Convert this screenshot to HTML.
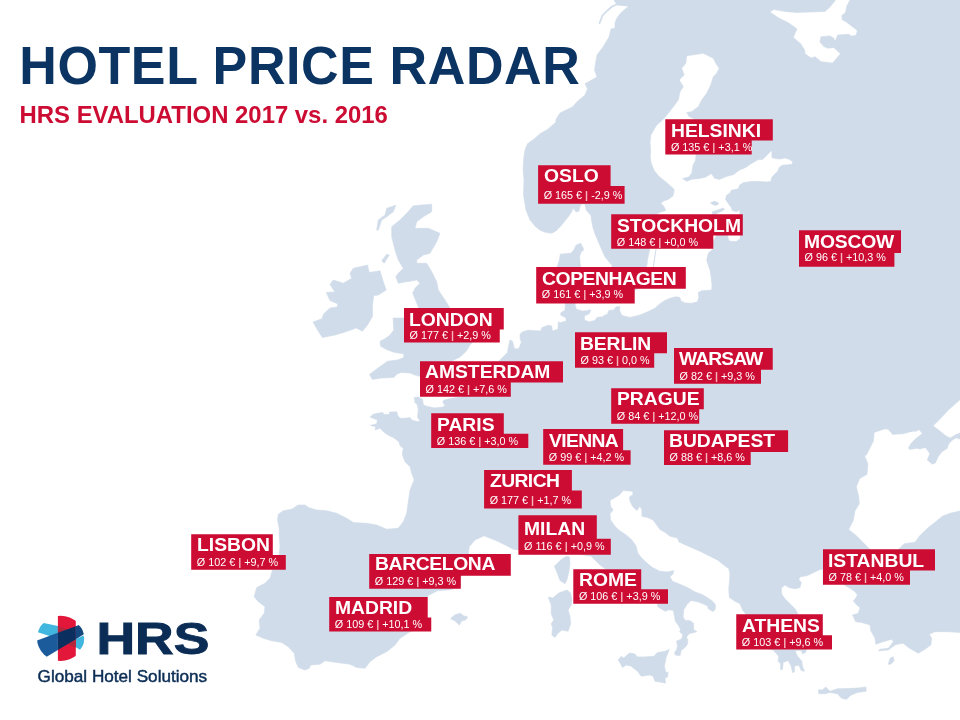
<!DOCTYPE html>
<html lang="en"><head><meta charset="utf-8"><title>Hotel Price Radar</title>
<style>
html,body{margin:0;padding:0;background:#fff}
body{width:960px;height:720px;position:relative;overflow:hidden;font-family:"Liberation Sans",Arial,sans-serif}
h1{position:absolute;left:19.3px;top:35.75px;margin:0;font-size:52px;line-height:60px;font-weight:bold;color:#0b3462;white-space:nowrap;letter-spacing:0.6px;transform:scaleY(1.04);transform-origin:0 48px}
h2{position:absolute;left:19.6px;top:100.1px;margin:0;font-size:23.9px;line-height:30px;font-weight:bold;color:#cc0c33;white-space:nowrap}
.layer{position:absolute;left:0;top:0;width:960px;height:720px;will-change:transform}
.bx{position:absolute;background:#cc0c33}
.t,.d{position:absolute;color:#fff;white-space:nowrap;margin:0}
.t{font-weight:bold;font-size:18.75px;line-height:24px;height:24px;transform:scaleX(1.029);transform-origin:0 0}
.d{font-size:10.8px;line-height:14px;height:14px}
.d b{color:#f6b4bc}
</style></head><body>
<svg width="960" height="720" viewBox="0 0 960 720" style="position:absolute;left:0;top:0">
<g fill="#d0dce9" stroke="#d0dce9" stroke-width="0.6" stroke-linejoin="round">
<path d="M614 0 L616.9 5 L628.75 6.25 L624 10 L620 13.75 L617 18 L615 22.5 L615 28 L611 29 L609 37 L603 47 L597 55 L594.5 70 L597 77 L585 83.75 L587.5 88.75 L585 95 L577.5 101.25 L572.5 106.9 L565 110.6 L560 113.1 L556.25 118.75 L555.6 122.5 L547.5 129.4 L540 133.75 L534.4 138.75 L527.5 143.75 L525 150 L523.75 157.5 L523.1 170 L524 180 L523.5 195 L526 210 L530 220 L535 226 L540 230.2 L545.2 232.3 L551.5 233.3 L555.6 231.25 L560.8 226 L565 220.8 L569.2 215.6 L571.8 211.5 L572.8 208.3 L574.9 209.9 L575.9 212 L579.1 210.9 L580.1 206.25 L581.7 204 L584.8 204 L586.4 210.4 L591 215.6 L591.6 220.8 L593.1 228.1 L595.2 234.4 L598.3 241.7 L601.5 249 L604.6 256.25 L608.75 261.5 L611.9 265.1 L612 267 L615 280 L618 290 L630 292 L640 288 L646 280 L646.7 266.5 L647.7 258.75 L649.8 249 L650 235 L653 222 L657.5 213.75 L659.6 212.5 L665.8 210.4 L663.75 206.25 L660.6 203.1 L663.75 201 L669 199 L673.1 195.8 L674.2 189.6 L670 185.4 L663.75 180.2 L658.5 176 L654.4 170.8 L651.25 163.5 L650.2 156.25 L650.7 150 L650 143.3 L650.8 135 L656.7 125 L662.5 120 L668.3 113.3 L673.3 106.7 L678.3 100 L680 91.7 L683.3 86.7 L679.2 80 L684.2 75 L681.7 68.3 L685.8 63.3 L686.7 55.8 L703.3 53.3 L713.3 58.3 L715.8 63.3 L719.2 68.3 L716.7 73.3 L713.3 76.7 L710.8 85 L706.7 93.3 L701.7 100 L698.3 106.7 L691.7 111.7 L686.7 112.5 L689.2 116.7 L695 119.2 L697 140 L696 154.7 L695.5 160.4 L692.9 165.6 L691.9 172.9 L688.75 177 L682.5 178.6 L686.7 181.25 L691.9 179.2 L699.2 178.5 L705.2 177.3 L711.5 173.6 L714.6 178.3 L719.3 179.4 L727.1 176.25 L733.3 174.7 L739.6 170 L745.8 167.4 L751 163.75 L758.3 159.6 L762.5 159.6 L766.7 155.4 L771.9 150.2 L771.9 157.5 L775 158.5 L780.2 159.1 L785.4 158 L789.6 159.6 L792.7 161.7 L792.2 164.3 L787.5 164.8 L782.3 165.3 L779.2 167.4 L777.6 171.6 L774 174.7 L771.9 177.3 L770.8 181.5 L766.7 182 L758.3 181.5 L751 181.5 L743.75 182.5 L739.6 185.1 L738.5 188.75 L731.25 190.3 L730.2 192.9 L726.6 195 L725.5 199.2 L728.1 203.3 L731.25 207.5 L732.3 210.6 L736.5 211.7 L739.6 210.1 L740.1 214.2 L741 225 L740 239 L736 241.7 L729 241 L727.5 235.5 L722 232 L716 236 L713 242 L713.3 248.8 L708.3 253.3 L706.7 260 L708.5 266 L710 270 L711.25 278.3 L712 285 L711.7 290 L706.7 290.4 L701.7 290.8 L698.3 292.5 L698.75 297.5 L697.5 301.7 L691.7 303.3 L685 302.9 L680.8 300.8 L680 297.5 L675.8 296.7 L670 298.3 L664.2 300.8 L658.3 305 L655 308.3 L647.7 311.8 L639.3 315.2 L630 317.4 L621.9 315.5 L619.4 309.9 L620 306.75 L616.25 306.75 L613.75 309.9 L608.75 310.5 L607.5 314.25 L605 314.9 L602.5 316.75 L596.9 317.4 L595 320.5 L588.75 321.75 L584.4 319.9 L584.4 316.1 L589.4 313.6 L590.6 310.5 L589.4 309.25 L588.75 310.5 L582.5 311.1 L576.25 309.25 L575 304.3 L577 295 L580 285 L580.6 266.7 L580.1 262.5 L579.6 256.25 L581.1 252.1 L583.75 250 L582.7 246.9 L580.6 243.2 L575.9 245.3 L574.4 249 L571.25 253.1 L560.3 254.2 L559.3 260.4 L557.2 266.7 L556 280 L560 292 L565.4 303.7 L565 310.2 L560.8 312.7 L560.8 315.2 L565.8 317.7 L566.25 321 L560 322.7 L558.3 321.8 L557.9 329.3 L552.5 331 L551.7 326 L548.3 325.2 L541.7 327.7 L540.8 331 L528.3 330.2 L522.5 331.8 L520 334.3 L520 337.5 L521.25 342.5 L518.75 348.75 L514.4 348.75 L512.5 341.25 L510 340 L508.75 345 L507.5 352.5 L501.25 358.75 L498 362 L497 366 L490 370 L483 373 L476 378 L468 388 L465 396.5 L465 396.5 L456.7 397.5 L449.2 398.75 L443.3 400.4 L442.9 402.9 L445 405 L443.3 407.1 L434.2 407.9 L425 405.8 L423.3 404.2 L422.5 399.2 L418.3 397.1 L414.2 397.5 L415 402.5 L417.5 405 L418.3 410 L417.5 417.5 L420 420.8 L417.5 421.7 L411.7 420 L410 417.5 L405 418.3 L400 418.3 L397.9 415.8 L396.7 411.7 L389.6 412.1 L389.2 414.6 L384.2 414.6 L382.5 412.5 L379.2 412.9 L373.3 414.2 L370 417.1 L377.5 420 L376.7 423.75 L370.4 425.4 L375.8 426.7 L375 430 L380 428.3 L384.2 432.5 L389.2 435.8 L393.3 437.5 L396.7 440 L399.2 442.5 L400 445.8 L403.3 448.3 L402.5 452.5 L402.5 455 L405 461.7 L410 466.7 L411.7 473.3 L414.2 480 L410 490 L408.3 501.7 L406.7 513.3 L403.3 521.7 L398.3 528.3 L386.7 529.2 L376.7 525 L366.7 523.3 L353.3 522.5 L346.7 518.3 L336.7 513.3 L326.7 510.8 L316.7 510 L308.3 507.5 L305 505 L298.3 505 L291.7 509.2 L283.3 510.8 L278.3 514.2 L277.5 520 L279.2 528.3 L279.2 535 L280 546.7 L279.2 555 L277 566 L272.5 570 L270 578.3 L265 583.3 L256.7 587.5 L254.2 596.7 L258.3 601.7 L265 606.7 L264.2 613.3 L259.2 620 L260 628.3 L255.8 635 L263.3 638.3 L271.7 640.8 L281.7 642.5 L288.3 646.7 L294.2 653.3 L295.8 661.7 L298.3 667.5 L305 670 L309.2 668.3 L310.8 665 L320 664.2 L325 660.8 L336.7 662.5 L350 664.2 L356.7 667.5 L365 668.3 L370 661.7 L376.7 656.7 L386.7 651.7 L395 645 L400 638.3 L410.4 631.6 L420 628 L426 620 L426 610 L426 600 L427.5 596.5 L429.2 595 L437.5 590.8 L450 589.8 L460.4 586.7 L460.6 577 L465 573 L468 568 L469.5 560 L468.3 554.2 L469.2 546.7 L475 540 L484.2 535.8 L488.3 537.5 L496.7 540.8 L506.7 545.8 L513.3 549.2 L518.4 550 L527 553 L535 554.5 L545 553 L577.5 553.8 L591.2 556.2 L600 565 L606.2 569.5 L615 580 L635 595 L657.5 603.8 L657.7 606.7 L661.9 609.3 L665.5 611.4 L668.1 609.8 L673.3 610.3 L674.4 616 L675.4 621.25 L678.5 625.4 L680.6 629.6 L679.6 631.7 L682.7 634.8 L681.7 639 L676.5 641 L677.5 646.25 L676.5 649.9 L674.4 652.5 L675.4 655.1 L680.1 655.6 L681.1 650.4 L684.8 647.8 L687.4 644.2 L687.9 640 L686.4 637.4 L689 633.75 L696.8 631.7 L693.6 629.6 L693.6 623.3 L690 620.7 L684.8 620.2 L683.2 616.6 L683.75 609.8 L686.9 604.6 L691 600.4 L698.3 602 L703.5 604.1 L707.7 606.1 L708.2 608.75 L712.9 611.4 L715 609.8 L715.5 605.1 L712.9 601.5 L707.7 597.8 L701.5 594.2 L695 591.9 L687.5 587.5 L678.75 583.75 L672.5 581.25 L670 576.9 L673.1 573.75 L673.75 570.6 L667.5 571.9 L660 571.25 L652.5 567.5 L646.25 562.5 L641.25 557.5 L637.5 552.5 L636.25 546.25 L631.9 540 L626.25 535 L618.75 530 L615 526.25 L610.6 520 L610 513.75 L613.1 510 L610.6 506.25 L610 500.6 L619.4 495 L623.1 490.6 L632.5 491.25 L633.1 494.4 L629.4 496.9 L630 501.25 L632.5 506.25 L636.9 510.6 L640 506.25 L641.9 510 L641.9 516.25 L647.5 517.5 L653 520 L657.5 526 L660 529.5 L666 533 L670 536.25 L677.5 538 L679 542 L690 546.9 L700 551.25 L710 556.25 L717.5 560 L723.75 565 L728.75 568.75 L730 573.75 L729.4 582.5 L728.75 588.75 L729.4 597.5 L735 601.25 L740 603.75 L742.5 610 L745.6 613.75 L745 618 L750 630 L757 640 L765 648 L773.1 650 L778.75 656.25 L778.1 661.25 L780.6 663.75 L780.6 669.4 L782.5 669.4 L783.1 662.5 L788.1 660.6 L791.25 666.25 L792.5 672.5 L794.4 671.9 L794.4 666.25 L798.75 665 L801.25 670.6 L804.4 671.25 L802.5 666.25 L801.9 661.25 L797.5 656.25 L795 650.6 L801.25 650.6 L802.5 653.75 L805.6 652.5 L806.25 650 L800 630 L797.5 613.1 L795 608.75 L790 603.75 L785 598.75 L781.9 594.4 L781.25 588.1 L785 585 L788.75 587.5 L795 588.75 L800 587.5 L801.25 582.5 L798.75 579.4 L800 576.9 L807.5 575.6 L815 571.9 L820 569.4 L823 569.4 L823 584 L830 580 L840 574 L844 584.7 L850 588.3 L855 591.7 L857.5 595 L855 599.2 L853.3 600.8 L856.7 605 L860 607.5 L858.3 613.3 L852.5 615 L855.8 621.7 L861.7 622.5 L870 625 L870.8 630.8 L875 638.3 L875.8 644.2 L883.3 641.7 L891.7 639.2 L893.3 641.7 L888.3 648.3 L880 649.2 L878.3 650.8 L888.3 650 L895 645 L897.5 644.2 L903.3 643.3 L908.3 647.5 L918.3 653.3 L925 649.2 L930.8 645 L931.7 638.3 L929.2 634.2 L935 631.7 L948.3 631.7 L961 632.5 L961 0Z"/>
<path d="M413.3 205.8 L431.7 204.2 L431.7 211.7 L423.3 216.7 L416.7 221.7 L415 228.3 L428.3 228.3 L440 233.3 L436.7 241.7 L430 253.3 L423.3 255 L416.7 260 L416.7 263.3 L426.7 263.3 L431.7 271.7 L436.7 281.7 L438.3 290 L445 300 L450 308.3 L460 315 L470 320 L480 325 L482.5 332.5 L475 340 L470 345 L466.25 351.25 L460 356.9 L455 359.4 L450 362 L440 368 L430 374 L420 376.25 L416.25 375.6 L410 373 L401.25 372.5 L397.5 373.75 L393.75 377.5 L381.25 378 L372.5 379.4 L369.4 374.4 L378.75 367.5 L387.5 361.25 L397.5 360 L403.75 357.5 L403.75 353.75 L395 352.5 L387.5 350 L380.6 346.25 L380 341.25 L385 338.75 L390 335 L393.75 330 L393.1 318.1 L404 318.1 L410 312 L418.75 308 L417.5 305 L415 298.75 L412.5 292.5 L413.3 291.7 L415 288.3 L420 283.3 L416.7 280 L406.7 281.7 L398.3 283.3 L395.8 276.7 L398.3 273.3 L403.3 268.3 L398.3 260 L395 250 L391.7 236.7 L391.7 226.7 L400 220 L406.7 213.3Z"/>
<path d="M350 273.3 L353.3 268.3 L367.5 265 L369.2 272.5 L380 270.8 L383.3 281.7 L386.25 290 L378.3 295 L373.75 295.6 L372.5 305 L372.5 316.25 L367.5 325 L362.5 331.25 L356.25 328 L347.5 331.25 L335 335 L322.5 337.5 L317.5 330 L313 322 L321.9 318.75 L323.75 313.75 L330 308 L337.5 306.9 L337.5 303.75 L330 300.6 L326.25 292.5 L335 291.9 L330 284.4 L333.3 280 L343.3 283.3 L351.7 278.3Z"/>
<path d="M376.7 230 L378.3 220 L385 215 L386.7 208.3 L395.8 205.3 L393.3 211.7 L386.7 216.7 L381.7 220 L378.3 230Z"/>
<path d="M381.7 260.8 L386.7 254.2 L389.2 255 L384.2 263.3Z"/>
<path d="M554.4 566.25 L560 560.6 L566.25 556.25 L569.4 556.9 L570 563.75 L568.75 572.5 L566.9 580 L565 583.75 L560 580.6 L557.5 573.75Z"/>
<path d="M548.1 596.9 L552.5 598.1 L558.75 593.1 L566.9 590 L570.6 593.1 L571.9 600 L571.25 605 L568.1 610 L570 616.25 L570.6 623.75 L568.1 631.25 L561.9 630 L557.5 633.75 L555 637.5 L551.9 635 L552.5 627.5 L551.25 623.75 L553.75 620 L551.25 613.75 L551.25 605Z"/>
<path d="M618.1 660 L621.25 656.25 L623.75 658.1 L629.4 653.1 L634.4 653.75 L637.5 656.9 L645 656.9 L653.75 656.25 L657.5 652.5 L665 651.25 L669.4 649.4 L666.25 656.9 L664.4 666.25 L665.6 671.9 L668.1 672.5 L667.5 676.9 L665 678.1 L665.6 683.1 L655 681.25 L653.1 676.25 L650 675 L641.25 676.25 L637.5 671.25 L631.25 666.25 L626.25 665 L622.5 667.5 L620.6 663.75Z"/>
<path d="M451 618 L455.2 614.8 L460.4 613.3 L463.5 615.8 L467.7 616.9 L465.6 620 L461.5 621 L459.4 625.2 L455.2 621 L451 619Z"/>
<path d="M818.5 689.75 L822.5 690 L825.6 686.9 L830 691.25 L837.5 688.75 L847.5 688.5 L857.5 688.1 L866 686.9 L866 691.25 L857.5 692.5 L851.25 695 L846.25 699.4 L841.25 698.1 L837.5 693.75 L830 692.5 L825 693.75 L818.75 693.75Z"/>
<path d="M888.3 664.2 L890 658.3 L893.3 656.7 L894.2 660.8 L890.8 664.2Z"/>
<path d="M710.4 202.8 L714.1 201.25 L717.7 202.3 L718.75 203.9 L715.6 205.4 L712.5 204.4Z"/>
<path d="M712.5 211.7 L718.75 209.6 L723.4 208 L724.5 209.6 L720.8 211.7 L716.7 213.2 L716 216 L712 216Z"/>
</g>
<g fill="#ffffff" stroke="#ffffff" stroke-width="0.4" stroke-linejoin="round">
<path d="M836.9 -1 L830 7.5 L825 11.9 L810 12.5 L796.25 13.1 L785 11.9 L773.75 10 L770.6 11.9 L778.75 17.5 L788.75 22.5 L797.5 28.75 L793.75 37.5 L801.25 43.75 L805 50 L805.6 53.75 L811.25 57.5 L815 56.25 L821.25 61.25 L832.5 62.5 L840 53.75 L833.75 48.1 L828.1 48.75 L823.75 46.9 L819.4 41.9 L820.6 36.25 L830 35.6 L833.75 37.5 L835 40 L837.5 34.4 L848.75 33.75 L851.25 35.6 L855.6 35 L856.9 30.6 L851.25 26.25 L846.25 22.5 L841.9 20 L841.25 15.6 L845 12.5 L846.25 6.25 L850 -1Z"/>
<path d="M874.6 432.8 L885 429.3 L888.5 430 L892.6 434.9 L903.1 434.2 L911.4 432.1 L916.9 431.4 L919 430 L921.8 433.5 L915.6 438.3 L910.7 443.2 L907.9 448.1 L910 450.1 L916.9 448.75 L919.7 449.4 L925.3 448.1 L929.4 453.6 L926.7 459.9 L932.2 464.7 L935.7 463.3 L938.5 457.1 L941.9 452.2 L947.5 448.75 L948.9 444.6 L951 441.8 L955.8 438.3 L961 439.7 L961 510.4 L950.1 512.7 L942.4 515.7 L934.8 521.9 L927.2 528 L919.5 535.6 L914.9 541.7 L904.2 543.3 L898.1 549.2 L890 552 L878 551 L871 549.2 L869 547.9 L862.9 541.7 L856.8 535.6 L849.2 529.5 L853.8 520.3 L855.3 511.2 L859.9 503.5 L859.1 495.9 L856.8 486.7 L859.9 479 L867.5 474.5 L868.3 463.8 L865.2 456.1 L866.9 455 L873.9 441.1Z"/>
<path d="M961 399.4 L948.9 409.9 L940.6 418.9 L933.6 425.8 L939.2 430 L946.1 435.6 L950.3 437.6 L955.8 434.2 L961 432.1Z"/>
</g>
<g fill="#d0dce9" stroke="#d0dce9" stroke-width="0.6" stroke-linejoin="round">
</g>
<path d="M616.5 4.5 L612 6.5 L607.5 10.5 L602.5 15.5 L599.6 23" fill="none" stroke="#d0dce9" stroke-width="1.7" stroke-linecap="round" stroke-linejoin="round"/>
<path d="M656 249.5 L654.5 258.75 L653.4 266.5" fill="none" stroke="#d0dce9" stroke-width="1.0" stroke-linecap="round" stroke-linejoin="round"/>
</svg>
<svg width="960" height="720" viewBox="0 0 960 720" style="position:absolute;left:0;top:0"><g fill="#cc0c33"><path d="M665.3 119.2H772.8V140.5H751.7V154.5H665.3Z"/><path d="M538.1 165.25H610.6V185.9H624.6V203.75H538.1Z"/><path d="M611.2 214.2H742.8V235.5H713.3V248.8H611.2Z"/><path d="M799 230.2H901V253H894.4V266.7H799Z"/><path d="M536.2 267H685.8V288.8H634.7V303.5H536.2Z"/><path d="M404 308.1H503.75V329.6H499.75V342.5H404Z"/><path d="M575 332.2H667V353.3H654.2V367.8H575Z"/><path d="M674 348.1H772.75V369.75H761V383.75H674Z"/><path d="M420 361.2H563V382.5H510.8V396.7H420Z"/><path d="M611.2 388.3H703.8V409.2H699.2V423.8H611.2Z"/><path d="M431.2 413.3H503.8V433.7H528.3V447.9H431.2Z"/><path d="M543.2 429.1H623.1V450.3H630.6V464.75H543.2Z"/><path d="M664 430.3H788.1V452H750.7V465H664Z"/><path d="M484.1 470H571.9V490.6H581.8V508.4H484.1Z"/><path d="M518.4 515.3H596.8V538.8H610.8V554.7H518.4Z"/><path d="M191.2 534.2H272.8V555H285.8V569.7H191.2Z"/><path d="M823 549.2H935V570.5H910V584.7H823Z"/><path d="M369.2 554H510.8V575.8H460.8V588.75H369.2Z"/><path d="M573.3 569.2H641.2V589.2H668V603.8H573.3Z"/><path d="M329.2 597.1H427.7V617.5H431.25V631.5H329.2Z"/><path d="M736.25 614.2H822.8V635.3H832V649.5H736.25Z"/></g></svg>
<div class="layer"><h1>HOTEL PRICE RADAR</h1>
<h2>HRS EVALUATION 2017 vs. 2016</h2>
<div class="t" style="left:670.70px;top:118.70px">HELSINKI</div><div class="d" style="left:670.90px;top:139.80px">Ø 135 € <b>|</b> +3,1 %</div>
<div class="t" style="left:543.50px;top:164.25px">OSLO</div><div class="d" style="left:543.70px;top:188.05px">Ø 165 € <b>|</b> -2,9 %</div>
<div class="t" style="left:616.60px;top:213.70px">STOCKHOLM</div><div class="d" style="left:616.80px;top:234.80px">Ø 148 € <b>|</b> +0,0 %</div>
<div class="t" style="left:804.40px;top:229.50px;letter-spacing:-0.15px">MOSCOW</div><div class="d" style="left:804.60px;top:250.10px">Ø 96 € <b>|</b> +10,3 %</div>
<div class="t" style="left:541.60px;top:266.80px;letter-spacing:-0.39px">COPENHAGEN</div><div class="d" style="left:541.80px;top:286.80px">Ø 161 € <b>|</b> +3,9 %</div>
<div class="t" style="left:409.40px;top:307.60px">LONDON</div><div class="d" style="left:409.60px;top:328.05px">Ø 177 € <b>|</b> +2,9 %</div>
<div class="t" style="left:580.40px;top:331.70px;letter-spacing:-0.1px">BERLIN</div><div class="d" style="left:580.60px;top:353.00px">Ø 93 € <b>|</b> 0,0 %</div>
<div class="t" style="left:679.40px;top:347.30px;letter-spacing:-0.9px">WARSAW</div><div class="d" style="left:679.60px;top:369.00px">Ø 82 € <b>|</b> +9,3 %</div>
<div class="t" style="left:425.40px;top:360.30px">AMSTERDAM</div><div class="d" style="left:425.60px;top:381.80px">Ø 142 € <b>|</b> +7,6 %</div>
<div class="t" style="left:616.60px;top:387.00px">PRAGUE</div><div class="d" style="left:616.80px;top:409.00px">Ø 84 € <b>|</b> +12,0 %</div>
<div class="t" style="left:436.60px;top:412.50px">PARIS</div><div class="d" style="left:436.80px;top:433.50px">Ø 136 € <b>|</b> +3,0 %</div>
<div class="t" style="left:548.60px;top:428.60px;letter-spacing:-0.63px">VIENNA</div><div class="d" style="left:548.80px;top:449.90px">Ø 99 € <b>|</b> +4,2 %</div>
<div class="t" style="left:669.40px;top:429.10px">BUDAPEST</div><div class="d" style="left:669.60px;top:449.90px">Ø 88 € <b>|</b> +8,6 %</div>
<div class="t" style="left:489.50px;top:469.40px;letter-spacing:-0.58px">ZURICH</div><div class="d" style="left:489.70px;top:492.70px">Ø 177 € <b>|</b> +1,7 %</div>
<div class="t" style="left:523.80px;top:516.80px">MILAN</div><div class="d" style="left:524.00px;top:538.90px">Ø 116 € <b>|</b> +0,9 %</div>
<div class="t" style="left:196.60px;top:533.30px">LISBON</div><div class="d" style="left:196.80px;top:555.10px">Ø 102 € <b>|</b> +9,7 %</div>
<div class="t" style="left:828.40px;top:548.70px">ISTANBUL</div><div class="d" style="left:828.60px;top:570.10px">Ø 78 € <b>|</b> +4,0 %</div>
<div class="t" style="left:374.60px;top:552.40px;letter-spacing:-0.35px">BARCELONA</div><div class="d" style="left:374.80px;top:573.90px">Ø 129 € <b>|</b> +9,3 %</div>
<div class="t" style="left:578.70px;top:567.50px">ROME</div><div class="d" style="left:578.90px;top:589.00px">Ø 106 € <b>|</b> +3,9 %</div>
<div class="t" style="left:334.60px;top:595.75px">MADRID</div><div class="d" style="left:334.80px;top:616.60px">Ø 109 € <b>|</b> +10,1 %</div>
<div class="t" style="left:741.65px;top:613.50px">ATHENS</div><div class="d" style="left:741.85px;top:634.80px">Ø 103 € <b>|</b> +9,6 %</div></div>
<svg width="220" height="100" viewBox="20 600 220 100" style="position:absolute;left:20px;top:600px">
<defs><clipPath id="lc"><ellipse cx="60.6" cy="638.4" rx="23.6" ry="22.7"/></clipPath></defs>
<g clip-path="url(#lc)">
<polygon points="43.75,623 57.9,625.9 57.9,638.8 37.9,632.2 36,628" fill="#41b6de"/>
<polygon points="75.8,639.25 83.3,635.5 86,641.3 80,649.7 75.8,647.2" fill="#41b6de"/>
<rect x="57.9" y="610" width="17.9" height="60" fill="#e2173a"/>
<polygon points="57.9,626 75.8,632.2 75.8,647.6 57.9,640.5" fill="#b3263b"/>
<polygon points="35,641.3 57.9,632.8 57.9,650 46.7,656.75 40,660" fill="#1b5b9c"/>
<polygon points="57.9,632.8 75.8,626.2 75.8,639.2 57.9,650" fill="#0b3060"/>
<polygon points="75.8,626.2 78.75,625.1 86,633 75.8,639.2" fill="#15487e"/>
</g>
<text x="96.4" y="653.9" font-family="'Liberation Sans',Arial,sans-serif" font-weight="bold" font-size="43.6" fill="#0b2d55" stroke="#0b2d55" stroke-width="0.9" stroke-linejoin="miter" textLength="113" lengthAdjust="spacingAndGlyphs">HRS</text>
<text x="37.6" y="681.7" font-family="'Liberation Sans',Arial,sans-serif" font-size="16.2" fill="#0b2d55" stroke="#0b2d55" stroke-width="0.45" textLength="169.6" lengthAdjust="spacingAndGlyphs">Global Hotel Solutions</text>
</svg>

</body></html>
